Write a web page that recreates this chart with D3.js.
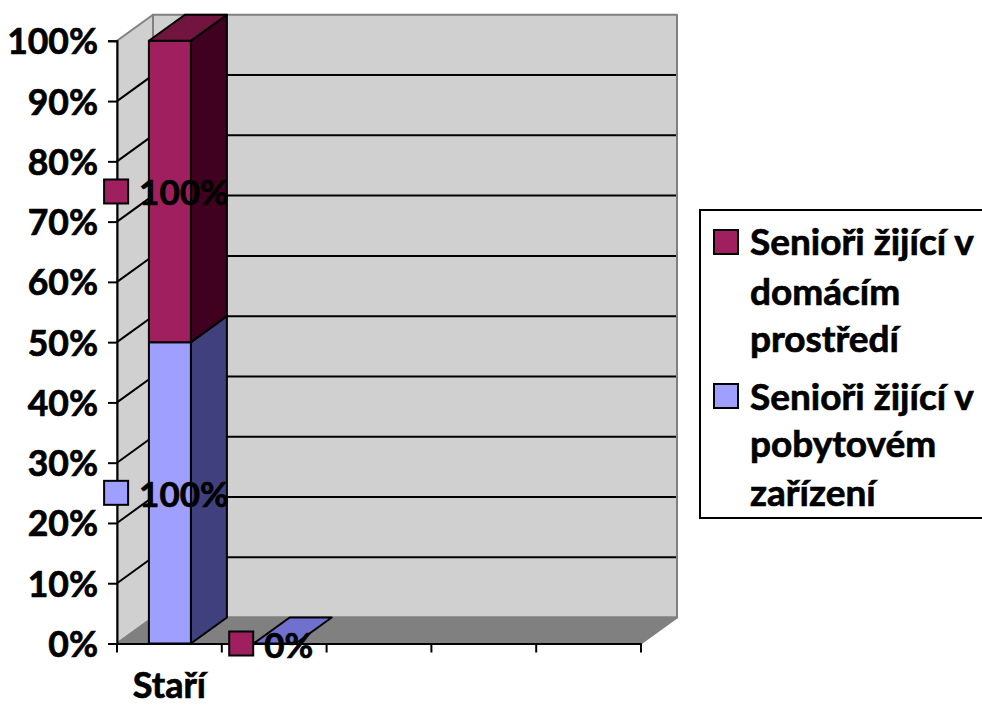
<!DOCTYPE html>
<html><head><meta charset="utf-8">
<script src="https://cdn.jsdelivr.net/npm/d3@7"></script>
<style>html,body{margin:0;padding:0;background:#fff}svg{display:block}text{font-family:Lato,"Open Sans",sans-serif;font-weight:700;fill:#000;stroke:#000;stroke-width:.7px}</style>
</head><body><svg id="c" width="982" height="706"></svg>
<script>
const categories = ["Staří", "", "", "", ""];
const homeValues = [50, 0, 0, 0, 0];
const facilityValues = [50, 0, 0, 0, 0];
const yTicks = [0,10,20,30,40,50,60,70,80,90,100];
const homeLabels = [{cat:0,text:"100%"},{cat:1,text:"0%"}];
const facilityLabels = [{cat:0,text:"100%"}];
const legendHome = ["Senioři žijící v","domácím","prostředí"];
const legendFacility = ["Senioři žijící v","pobytovém","zařízení"];
const colors = {home:{front:"#A0205F",top:"#71143F",side:"#40001F"},
  facility:{front:"#9F9FFF",top:"#7070CF",side:"#40407F"},
  wall:"#D0D0D0",floor:"#808080",edge:"#808080"};
const dx = 36, dy = -26, barW = 42;
const svg = d3.select("#c");
const x = d3.scaleBand().domain(d3.range(categories.length)).range([117,641]);
const y = d3.scaleLinear().domain([0,100]).range([643.5,40.8]);
const poly = (pts,fill,stroke,sw) => svg.append("polygon").attr("points",pts.map(p=>p.join(",")).join(" "))
  .attr("fill",fill).attr("stroke",stroke).attr("stroke-width",sw).attr("stroke-linejoin","round");
const x0=x.range()[0], x1=x.range()[1], y0=y(0), y1=y(100);
// walls and floor
poly([[x0,y0],[x0,y1],[x0+dx,y1+dy],[x0+dx,y0+dy]],colors.wall,colors.edge,2);
poly([[x0+dx,y0+dy],[x0+dx,y1+dy],[x1+dx,y1+dy],[x1+dx,y0+dy]],colors.wall,colors.edge,2);
poly([[x0,y0],[x0+dx,y0+dy],[x1+dx,y0+dy],[x1,y0]],colors.floor,colors.edge,2);
// gridlines
yTicks.filter(t=>t>0&&t<100).forEach(t=>{
  svg.append("polyline").attr("fill","none").attr("stroke","#000").attr("stroke-width",2)
   .attr("points",[[x0,y(t)],[x0+dx,y(t)+dy],[x1+dx-1,y(t)+dy]].map(p=>p.join(",")).join(" "));
});
// bars
const seriesList=[{v:facilityValues,c:colors.facility,base:()=>0},{v:homeValues,c:colors.home,base:i=>facilityValues[i]}];
seriesList.forEach(s=>{
  s.v.forEach((val,i)=>{
    if(i>1) return;
    if(val===0 && s.c!==colors.facility) return;
    const cx=x(i)+x.bandwidth()/2, l=cx-barW/2+.5, r=l+barW, b=y(s.base(i)), t=y(s.base(i)+val);
    if(val>0){
      poly([[r,b],[r,t],[r+dx,t+dy],[r+dx,b+dy]],s.c.side,"#000",2);
      poly([[l,b],[l,t],[r,t],[r,b]],s.c.front,"#000",2);
    }
    if(s===seriesList[1]||val===0) poly([[l,t],[l+dx,t+dy],[r+dx,t+dy],[r,t]],s.c.top,"#000",2);
  });
});
// axes
const yAxis=d3.axisLeft(y).tickValues(yTicks).tickFormat(d=>d+"%").tickSize(9).tickPadding(10);
const gy=svg.append("g").attr("transform",`translate(${x0},0)`).call(yAxis);
gy.selectAll("path,line").attr("stroke","#000").attr("stroke-width",2);
gy.selectAll("text").style("font-size","35.5px").attr("dy",null).attr("y",13);
const xAxis=d3.axisBottom(x).tickFormat(i=>categories[i]).tickSize(0).tickPadding(30);
const gx=svg.append("g").attr("transform",`translate(0,${y0})`).call(xAxis);
gx.selectAll("path").attr("stroke","#000").attr("stroke-width",2);
gx.selectAll(".tick line").remove();
gx.selectAll(".tick text").style("font-size","36px").attr("y",54).attr("dy",null);
const edges=d3.range(categories.length).map(i=>x(i)).concat([x1]);
gx.selectAll("line.t").data(edges).join("line").attr("class","t").attr("x1",d=>d).attr("x2",d=>d).attr("y1",0).attr("y2",9).attr("stroke","#000").attr("stroke-width",2);
// data labels with legend keys
function label(d,base,val,c){
  const cx=x(d.cat)+x.bandwidth()/2-4, cy=y(base+val/2);
  const g=svg.append("g");
  const tx=g.append("text").text(d.text).style("font-size","35px");
  const w=tx.node().getComputedTextLength();
  const start=cx-(25+12+w)/2;
  g.append("rect").attr("x",start+2).attr("y",cy-12).attr("width",24).attr("height",24).attr("fill",c).attr("stroke","#000").attr("stroke-width",2).lower();
  tx.attr("x",start+37).attr("y",cy+14);
}
homeLabels.forEach(d=>label(d,facilityValues[d.cat],homeValues[d.cat],colors.home.front));
facilityLabels.forEach(d=>label(d,0,facilityValues[d.cat],colors.facility.front));
// legend
svg.append("rect").attr("x",700).attr("y",210).attr("width",300).attr("height",308).attr("fill","#fff").attr("stroke","#000").attr("stroke-width",2);
[[legendHome,colors.home.front,230,[255,305,352]],[legendFacility,colors.facility.front,384,[410,457,506]]].forEach(([lines,c,sy,bl])=>{
  svg.append("rect").attr("x",714).attr("y",sy).attr("width",24).attr("height",24).attr("fill",c).attr("stroke","#000").attr("stroke-width",2);
  lines.forEach((t,i)=>svg.append("text").attr("x",750).attr("y",bl[i]).style("font-size","37px").text(t));
});
</script></body></html>
